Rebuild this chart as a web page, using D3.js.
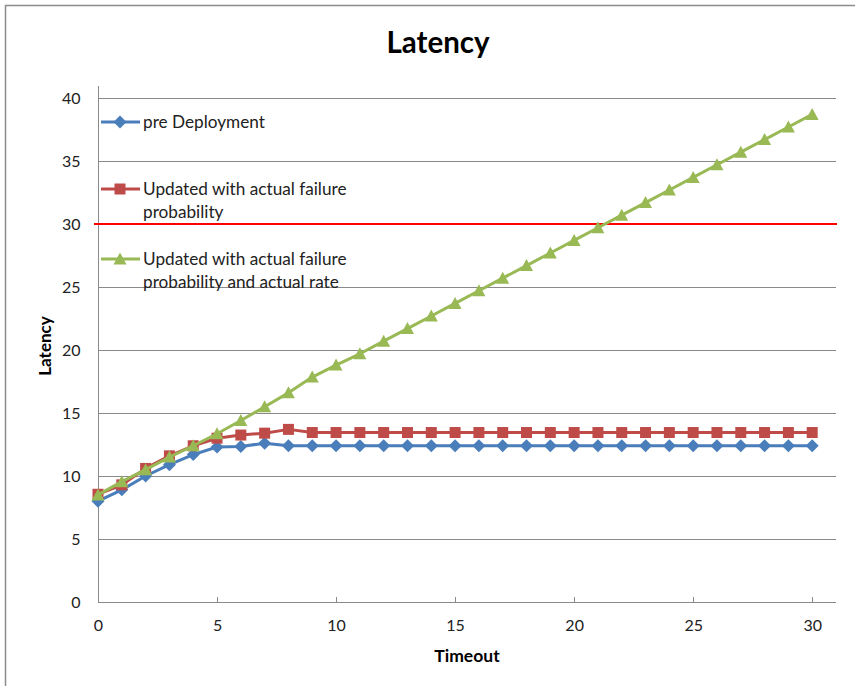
<!DOCTYPE html>
<html><head><meta charset="utf-8">
<script src="https://cdn.jsdelivr.net/npm/d3@7"></script>
<style>body{margin:0;background:#fff}svg{display:block}text{font-family:Lato,"Open Sans",sans-serif}</style>
</head><body>
<svg id="c" width="855" height="686"></svg>
<script>
const timeouts = [0,1,2,3,4,5,6,7,8,9,10,11,12,13,14,15,16,17,18,19,20,21,22,23,24,25,26,27,28,29,30];
const preDeployment = [8.0,8.9,10.0,10.9,11.7,12.3,12.35,12.6,12.4,12.4,12.4,12.4,12.4,12.4,12.4,12.4,12.4,12.4,12.4,12.4,12.4,12.4,12.4,12.4,12.4,12.4,12.4,12.4,12.4,12.4,12.4];
const updatedFailure = [8.55,9.3,10.6,11.6,12.4,13.0,13.25,13.4,13.7,13.45,13.45,13.45,13.45,13.45,13.45,13.45,13.45,13.45,13.45,13.45,13.45,13.45,13.45,13.45,13.45,13.45,13.45,13.45,13.45,13.45,13.45];
const updatedFailureRate = [8.5,9.55,10.5,11.5,12.4,13.35,14.4,15.5,16.6,17.85,18.8,19.7,20.7,21.7,22.7,23.7,24.7,25.7,26.7,27.7,28.7,29.7,30.7,31.7,32.7,33.7,34.7,35.7,36.7,37.7,38.7];
const seriesNames = ["pre Deployment", "Updated with actual failure|probability", "Updated with actual failure|probability and actual rate"];
const yTicks = [0,5,10,15,20,25,30,35,40];
const xTicks = [0,5,10,15,20,25,30];
const threshold = 30;

const svg = d3.select("#c");
const x = d3.scaleLinear().domain([0,31]).range([98,836]);
const y = d3.scaleLinear().domain([0,40]).range([602,98]);

// outer border
svg.append("path").attr("d","M5.5,686 V5.5 H855").attr("fill","none").attr("stroke","#8c8c8c").attr("stroke-width",1.5);

// title
svg.append("text").attr("x",438).attr("y",53).attr("text-anchor","middle")
  .attr("font-size",29.5).attr("font-weight","bold").attr("fill","#000").text("Latency");

// gridlines
svg.append("g").selectAll("line").data(yTicks.filter(d=>d>0)).join("line")
  .attr("x1",x(0)).attr("x2",x(31)).attr("y1",d=>Math.round(y(d))+0.5).attr("y2",d=>Math.round(y(d))+0.5)
  .attr("stroke","#8a8a8a").attr("stroke-width",1);

// axes
const yAxis = d3.axisLeft(y).tickValues(yTicks).tickSize(0).tickPadding(18);
const gy = svg.append("g").attr("transform",`translate(${x(0)+0.5},0)`).call(yAxis);
gy.select(".domain").remove();
gy.selectAll("text").attr("font-size",16).attr("fill","#222").attr("font-family","Lato, sans-serif");
svg.append("line").attr("x1",x(0)+0.5).attr("x2",x(0)+0.5).attr("y1",86).attr("y2",y(0)).attr("stroke","#8a8a8a");

const xAxis = d3.axisBottom(x).tickValues(xTicks).tickSize(0).tickPadding(17);
const gx = svg.append("g").attr("transform",`translate(0,${Math.round(y(0))+0.5})`).call(xAxis);
gx.select(".domain").remove();
gx.selectAll("text").attr("font-size",16).attr("fill","#222").attr("font-family","Lato, sans-serif");
svg.append("line").attr("x1",x(0)).attr("x2",x(31)).attr("y1",Math.round(y(0))+0.5).attr("y2",Math.round(y(0))+0.5).attr("stroke","#8a8a8a");
svg.append("g").selectAll("line").data(xTicks.filter(d=>d>0)).join("line")
  .attr("x1",d=>Math.round(x(d))+0.5).attr("x2",d=>Math.round(x(d))+0.5)
  .attr("y1",y(0)-5).attr("y2",y(0)).attr("stroke","#8a8a8a");

// axis titles
svg.append("text").attr("x",467).attr("y",662).attr("text-anchor","middle")
  .attr("font-size",17.5).attr("font-weight","bold").attr("fill","#000").text("Timeout");
svg.append("text").attr("transform","translate(51,346) rotate(-90)").attr("text-anchor","middle")
  .attr("font-size",17).attr("font-weight","bold").attr("fill","#000").text("Latency");

// threshold line
svg.append("line").attr("x1",94).attr("x2",837).attr("y1",y(threshold)).attr("y2",y(threshold))
  .attr("stroke","#ff0000").attr("stroke-width",2);

const series = [
  {name:seriesNames[0], values:preDeployment, color:"#4a7ebb", sym:"diamond"},
  {name:seriesNames[1], values:updatedFailure, color:"#be4b48", sym:"square"},
  {name:seriesNames[2], values:updatedFailureRate, color:"#98b954", sym:"triangle"}
];

const symPath = {
  diamond: "M0,-6.5 L6.5,0 L0,6.5 L-6.5,0 Z",
  square: "M-5.5,-5.5 H5.5 V5.5 H-5.5 Z",
  triangle: "M0,-6.5 L6.5,5.5 L-6.5,5.5 Z"
};

const line = d3.line().x((d,i)=>x(timeouts[i])).y(d=>y(d));
series.forEach(s=>{
  const g = svg.append("g");
  g.append("path").attr("d",line(s.values)).attr("fill","none").attr("stroke",s.color).attr("stroke-width",3).attr("stroke-linejoin","round");
  g.selectAll("path.m").data(s.values).join("path").attr("class","m")
    .attr("d",symPath[s.sym]).attr("fill",s.color)
    .attr("transform",(d,i)=>`translate(${x(timeouts[i])},${y(d)})`);
});

// legend
const legY = [122,189,259];
series.forEach((s,i)=>{
  const g = svg.append("g");
  g.append("line").attr("x1",101).attr("x2",140).attr("y1",legY[i]).attr("y2",legY[i]).attr("stroke",s.color).attr("stroke-width",3);
  g.append("path").attr("d",symPath[s.sym]).attr("fill",s.color).attr("transform",`translate(120,${legY[i]})`);
  const lines = s.name.split("|");
  lines.forEach((t,j)=>{
    g.append("text").attr("x",143).attr("y",legY[i]+6+j*23).attr("font-size",17.2).attr("fill","#222").text(t);
  });
});
</script>
</body></html>
